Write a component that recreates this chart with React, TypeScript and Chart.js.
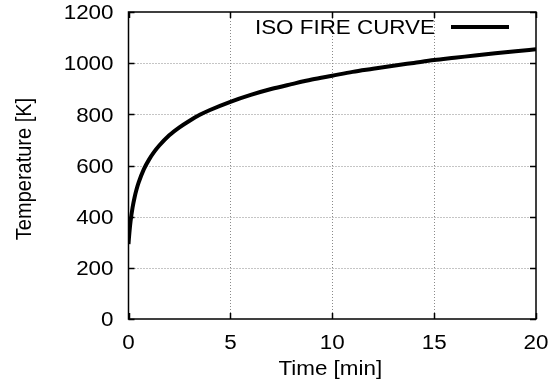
import { useEffect, useRef } from "react";
import { Chart, registerables } from "chart.js";

Chart.register(...registerables);

// Time since ignition [min]
const timeMin = [
  0, 0.02, 0.05, 0.1, 0.2, 0.3, 0.4, 0.5, 0.75, 1, 1.25, 1.5, 2, 2.5, 3, 3.5, 4, 5, 6, 7, 8, 9, 10,
  11, 12, 13, 14, 15, 16, 17, 18, 19, 20,
];
// Gas temperature [K]
const temperatureK = [
  293, 315, 343, 381, 436, 476, 508, 534, 585, 622, 652, 677, 718, 749, 775, 798, 817, 849, 876, 899,
  918, 936, 951, 966, 978, 990, 1001, 1012, 1021, 1030, 1039, 1047, 1054,
];

const xTicks = [0, 5, 10, 15, 20];
const yTicks = [0, 200, 400, 600, 800, 1000, 1200];

const seriesLabel = "ISO FIRE CURVE";
const xTitle = "Time [min]";
const yTitle = "Temperature [K]";

const FONT = "Liberation Sans, Arial, Helvetica, sans-serif";
const FONT_SIZE = 20;
// text is drawn slightly wide, as in the original terminal output
const STRETCH = 1.12;

function wideText(ctx: CanvasRenderingContext2D, text: string, x: number, y: number, align: CanvasTextAlign) {
  ctx.save();
  ctx.translate(x, y);
  ctx.scale(STRETCH, 1);
  ctx.textAlign = align;
  ctx.textBaseline = "alphabetic";
  ctx.fillText(text, 0, 0);
  ctx.restore();
}

// Dotted grid, inward (mirrored) ticks, frame, labels and key
const framePlugin = {
  id: "frame",
  beforeDatasetsDraw(chart: any) {
    const { ctx, chartArea: a, scales } = chart;
    const xs = scales.x;
    const ys = scales.y;
    ctx.save();
    ctx.strokeStyle = "#8a8a8a";
    ctx.lineWidth = 1;
    ctx.setLineDash([1, 2]);
    for (const v of xTicks) {
      const px = Math.round(xs.getPixelForValue(v)) + 0.5;
      if (px <= a.left + 1 || px >= a.right - 1) continue;
      ctx.beginPath();
      ctx.moveTo(px, a.top);
      ctx.lineTo(px, a.bottom);
      ctx.stroke();
    }
    for (const v of yTicks) {
      const py = Math.round(ys.getPixelForValue(v)) + 0.5;
      if (py <= a.top + 1 || py >= a.bottom - 1) continue;
      ctx.beginPath();
      ctx.moveTo(a.left, py);
      ctx.lineTo(a.right, py);
      ctx.stroke();
    }
    ctx.setLineDash([]);
    ctx.strokeStyle = "#000";
    ctx.lineWidth = 1.5;
    const tl = 6;
    for (const v of xTicks) {
      const px = Math.round(xs.getPixelForValue(v)) + 0.5;
      ctx.beginPath();
      ctx.moveTo(px, a.bottom);
      ctx.lineTo(px, a.bottom - tl);
      ctx.moveTo(px, a.top);
      ctx.lineTo(px, a.top + tl);
      ctx.stroke();
    }
    for (const v of yTicks) {
      const py = Math.round(ys.getPixelForValue(v)) + 0.5;
      ctx.beginPath();
      ctx.moveTo(a.left, py);
      ctx.lineTo(a.left + tl, py);
      ctx.moveTo(a.right, py);
      ctx.lineTo(a.right - tl, py);
      ctx.stroke();
    }
    ctx.strokeRect(a.left, a.top, a.right - a.left, a.bottom - a.top);
    ctx.restore();
  },
  afterDraw(chart: any) {
    const { ctx, chartArea: a, scales } = chart;
    ctx.save();
    ctx.fillStyle = "#000";
    ctx.font = `${FONT_SIZE}px ${FONT}`;
    // tick labels, placed by the scales
    for (const v of xTicks) {
      wideText(ctx, String(v), scales.x.getPixelForValue(v), a.bottom + 30, "center");
    }
    for (const v of yTicks) {
      wideText(ctx, String(v), a.left - 15, scales.y.getPixelForValue(v) + 7.3, "right");
    }
    // axis titles
    wideText(ctx, xTitle, (a.left + a.right) / 2 - 2, 375, "center");
    ctx.save();
    ctx.translate(30.5, 169);
    ctx.rotate(-Math.PI / 2);
    ctx.scale(1, STRETCH);
    ctx.textAlign = "center";
    ctx.textBaseline = "alphabetic";
    ctx.fillText(yTitle, 0, 0);
    ctx.restore();
    // key: label followed by a line sample
    const ky = a.top + 15;
    wideText(ctx, seriesLabel, a.right - 101, ky + 7.3, "right");
    ctx.strokeStyle = "#000";
    ctx.lineWidth = 4;
    ctx.beginPath();
    ctx.moveTo(a.right - 85, ky);
    ctx.lineTo(a.right - 27, ky);
    ctx.stroke();
    ctx.restore();
  },
};

function FireCurveChart() {
  const ref = useRef<HTMLCanvasElement | null>(null);

  useEffect(() => {
    if (!ref.current) return;
    const points = timeMin.map((t, i) => ({ x: t, y: temperatureK[i] }));
    const chart = new Chart(ref.current, {
      type: "line",
      data: {
        datasets: [
          {
            label: seriesLabel,
            data: points,
            borderColor: "#000",
            borderWidth: 4,
            pointRadius: 0,
            fill: false,
            cubicInterpolationMode: "monotone",
          },
        ],
      },
      options: {
        responsive: false,
        animation: false,
        layout: { padding: { top: 12, right: 23, left: 0, bottom: 0 } },
        plugins: {
          legend: { display: false },
          tooltip: { enabled: false },
        },
        scales: {
          x: {
            type: "linear",
            min: 0,
            max: 20,
            afterBuildTicks: (s: any) => {
              s.ticks = xTicks.map((v) => ({ value: v }));
            },
            afterFit: (s: any) => {
              s.height = 72;
            },
            grid: { display: false, drawTicks: false },
            border: { display: false },
            ticks: { display: false },
          },
          y: {
            type: "linear",
            min: 0,
            max: 1200,
            afterBuildTicks: (s: any) => {
              s.ticks = yTicks.map((v) => ({ value: v }));
            },
            afterFit: (s: any) => {
              s.width = 128.5;
            },
            grid: { display: false, drawTicks: false },
            border: { display: false },
            ticks: { display: false },
          },
        },
      },
      plugins: [framePlugin],
    } as any);
    return () => chart.destroy();
  }, []);

  return <canvas ref={ref} width={559} height={391} style={{ display: "block" }} />;
}

export default function App() {
  return (
    <div style={{ position: "absolute", left: 0, top: 0, width: 559, height: 391, background: "#fff" }}>
      <FireCurveChart />
    </div>
  );
}
